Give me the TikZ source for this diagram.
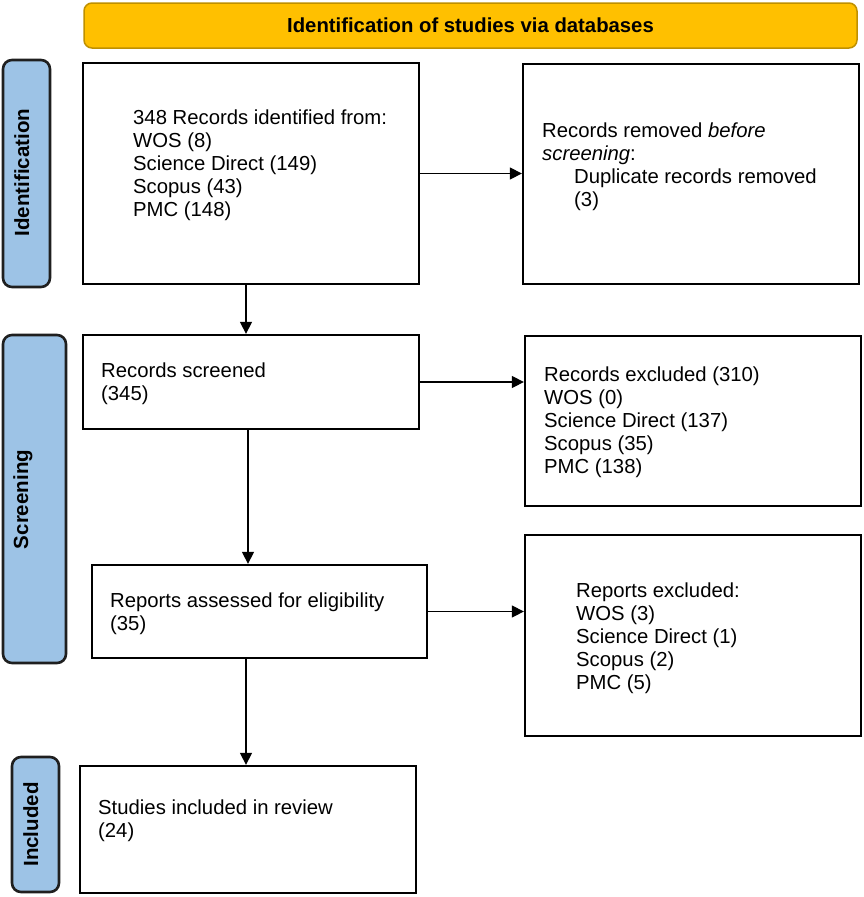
\documentclass[tikz,border=0pt]{standalone}
\usepackage{fontspec}
\setmainfont{Liberation Sans}
\usetikzlibrary{arrows.meta}
\definecolor{bannerfill}{HTML}{FFC000}
\definecolor{bannerline}{HTML}{BF9000}
\definecolor{barfill}{HTML}{9DC3E6}
\definecolor{barline}{HTML}{1F1F1F}
\begin{document}
\begin{tikzpicture}[x=1pt,y=-1pt,
  box/.style={draw=black, line width=2.3pt, inner sep=0pt},
  txt/.style={anchor=north west, inner sep=0pt, align=left, font=\fontsize{20.3}{23}\selectfont},
  banner/.style={draw=bannerline, fill=bannerfill, line width=1.5pt, rounded corners=8pt, inner sep=0pt},
  bar/.style={draw=barline, fill=barfill, line width=2.6pt, rounded corners=9pt, inner sep=0pt},
  barlabel/.style={rotate=90, font=\fontsize{20.5}{24}\selectfont\bfseries, anchor=mid, inner sep=0pt},
  arr/.style={line width=1.3pt, -{Triangle[length=12pt,width=12pt]}}]
\useasboundingbox (0,0) rectangle (864,897);
% banner
\node[banner, minimum width=773pt, minimum height=45pt] (ban) at (470.5,25.5) {};
\node[font=\fontsize{20.3}{24}\selectfont\bfseries, inner sep=0pt] (bant) at (ban.center) {Identification of studies via databases};
% side bars
\node[bar, minimum width=47pt, minimum height=227pt] (barid) at (26.5,173.5) {};
\node[barlabel] (barid-t) at (26.5,172.5) {Identification};
\node[bar, minimum width=63pt, minimum height=328pt] (barsc) at (34.5,499) {};
\node[barlabel] (barsc-t) at (25.5,499.5) {Screening};
\node[bar, minimum width=47pt, minimum height=135pt] (barin) at (35.5,824.5) {};
\node[barlabel] (barin-t) at (35.5,824.5) {Included};
% boxes
\node[box, minimum width=336pt, minimum height=221pt] (b1) at (251,173.5) {};
\node[box, minimum width=336pt, minimum height=220pt] (b2) at (691,174) {};
\node[box, minimum width=336pt, minimum height=94pt] (b3) at (251,382) {};
\node[box, minimum width=336pt, minimum height=170pt] (b5) at (693,421) {};
\node[box, minimum width=335pt, minimum height=93pt] (b4) at (259.5,611.5) {};
\node[box, minimum width=336pt, minimum height=201pt] (b6) at (693,635.5) {};
\node[box, minimum width=336pt, minimum height=127pt] (b7) at (248,829.5) {};
% texts
\node[txt] (t1) at (133,110) {348 Records identified from:\\WOS (8)\\Science Direct (149)\\Scopus (43)\\PMC (148)};
\node[txt] (t2) at (542,123) {Records removed \textit{before}\\\textit{screening}:\\\hspace*{32pt}Duplicate records removed\\\hspace*{32pt}(3)};
\node[txt] (t3) at (101,363) {Records screened\\(345)};
\node[txt] (t5) at (544,367) {Records excluded (310)\\WOS (0)\\Science Direct (137)\\Scopus (35)\\PMC (138)};
\node[txt] (t4) at (110,593) {Reports assessed for eligibility\\(35)};
\node[txt] (t6) at (576,583) {Reports excluded:\\WOS (3)\\Science Direct (1)\\Scopus (2)\\PMC (5)};
\node[txt] (t7) at (98,800) {Studies included in review\\(24)};
% columns for vertical arrows
\coordinate (ca) at (246,0);
\coordinate (cb) at (248,0);
% arrows
\draw[arr] (b1.east) -- (b1.east -| b2.west);
\draw[arr] (b1.south -| ca) -- (b3.north -| ca);
\draw[arr] (b3.east) -- (b3.east -| b5.west);
\draw[arr] (b3.south -| cb) -- (b4.north -| cb);
\draw[arr] (b4.east) -- (b4.east -| b6.west);
\draw[arr] (b4.south -| ca) -- (b7.north -| ca);
\end{tikzpicture}
\end{document}
